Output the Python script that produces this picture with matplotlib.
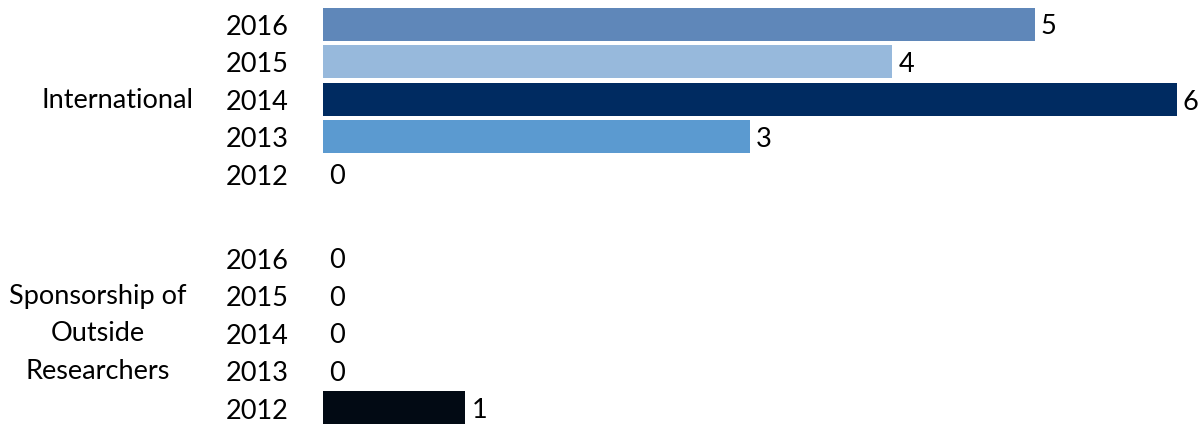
import matplotlib
matplotlib.use("Agg")
import matplotlib.pyplot as plt
from matplotlib import transforms

plt.rcParams['font.family'] = ['Lato', 'DejaVu Sans']

groups = ["International", "Sponsorship of\nOutside\nResearchers"]
years = ["2016", "2015", "2014", "2013", "2012"]
international = [5, 4, 6, 3, 0]
sponsorship = [0, 0, 0, 0, 1]
year_colors = ["#5f87b9", "#97b9dc", "#002b61", "#5b9ad0", "#020a14"]

W, H = 1202, 427
fig = plt.figure(figsize=(W / 100, H / 100), dpi=100)
left_px, right_px = 323, 1177
pitch = 37.5
first_center = 25
ax = fig.add_axes([left_px / W, 0, (right_px - left_px) / W, 1])

group_gap = 2.23
positions = []
labels = []
values = []
colors = []
group_centers = []
for gi, series in enumerate([international, sponsorship]):
    base = gi * (len(years) - 1 + group_gap)
    group_centers.append(base + 2)
    for i, (y, v) in enumerate(zip(years, series)):
        positions.append(base + i)
        labels.append(y)
        values.append(v)
        colors.append(year_colors[i])

ax.barh(positions, values, height=0.88, color=colors)
ax.set_xlim(0, 6)
ax.set_ylim((H - first_center) / pitch, -first_center / pitch)
for s in ax.spines.values():
    s.set_visible(False)
ax.set_xticks([])
ax.set_yticks(positions)
ax.set_yticklabels(labels, fontsize=19.5)
ax.tick_params(axis='y', length=0, pad=25)

offset = transforms.offset_copy(ax.transData, fig=fig, x=6, y=-2, units='dots')
for p, v in zip(positions, values):
    ax.text(v, p, str(v), transform=offset, ha='left', va='center', fontsize=19.5)

blend = transforms.blended_transform_factory(fig.transFigure, ax.transData)
ax.text(117 / W, group_centers[0], groups[0], transform=blend, ha='center', va='center', fontsize=19.5)
ax.text(98 / W, group_centers[1], groups[1], transform=blend, ha='center', va='center',
        fontsize=19.5, multialignment='center', linespacing=1.62)

fig.savefig("out.png", dpi=100)
